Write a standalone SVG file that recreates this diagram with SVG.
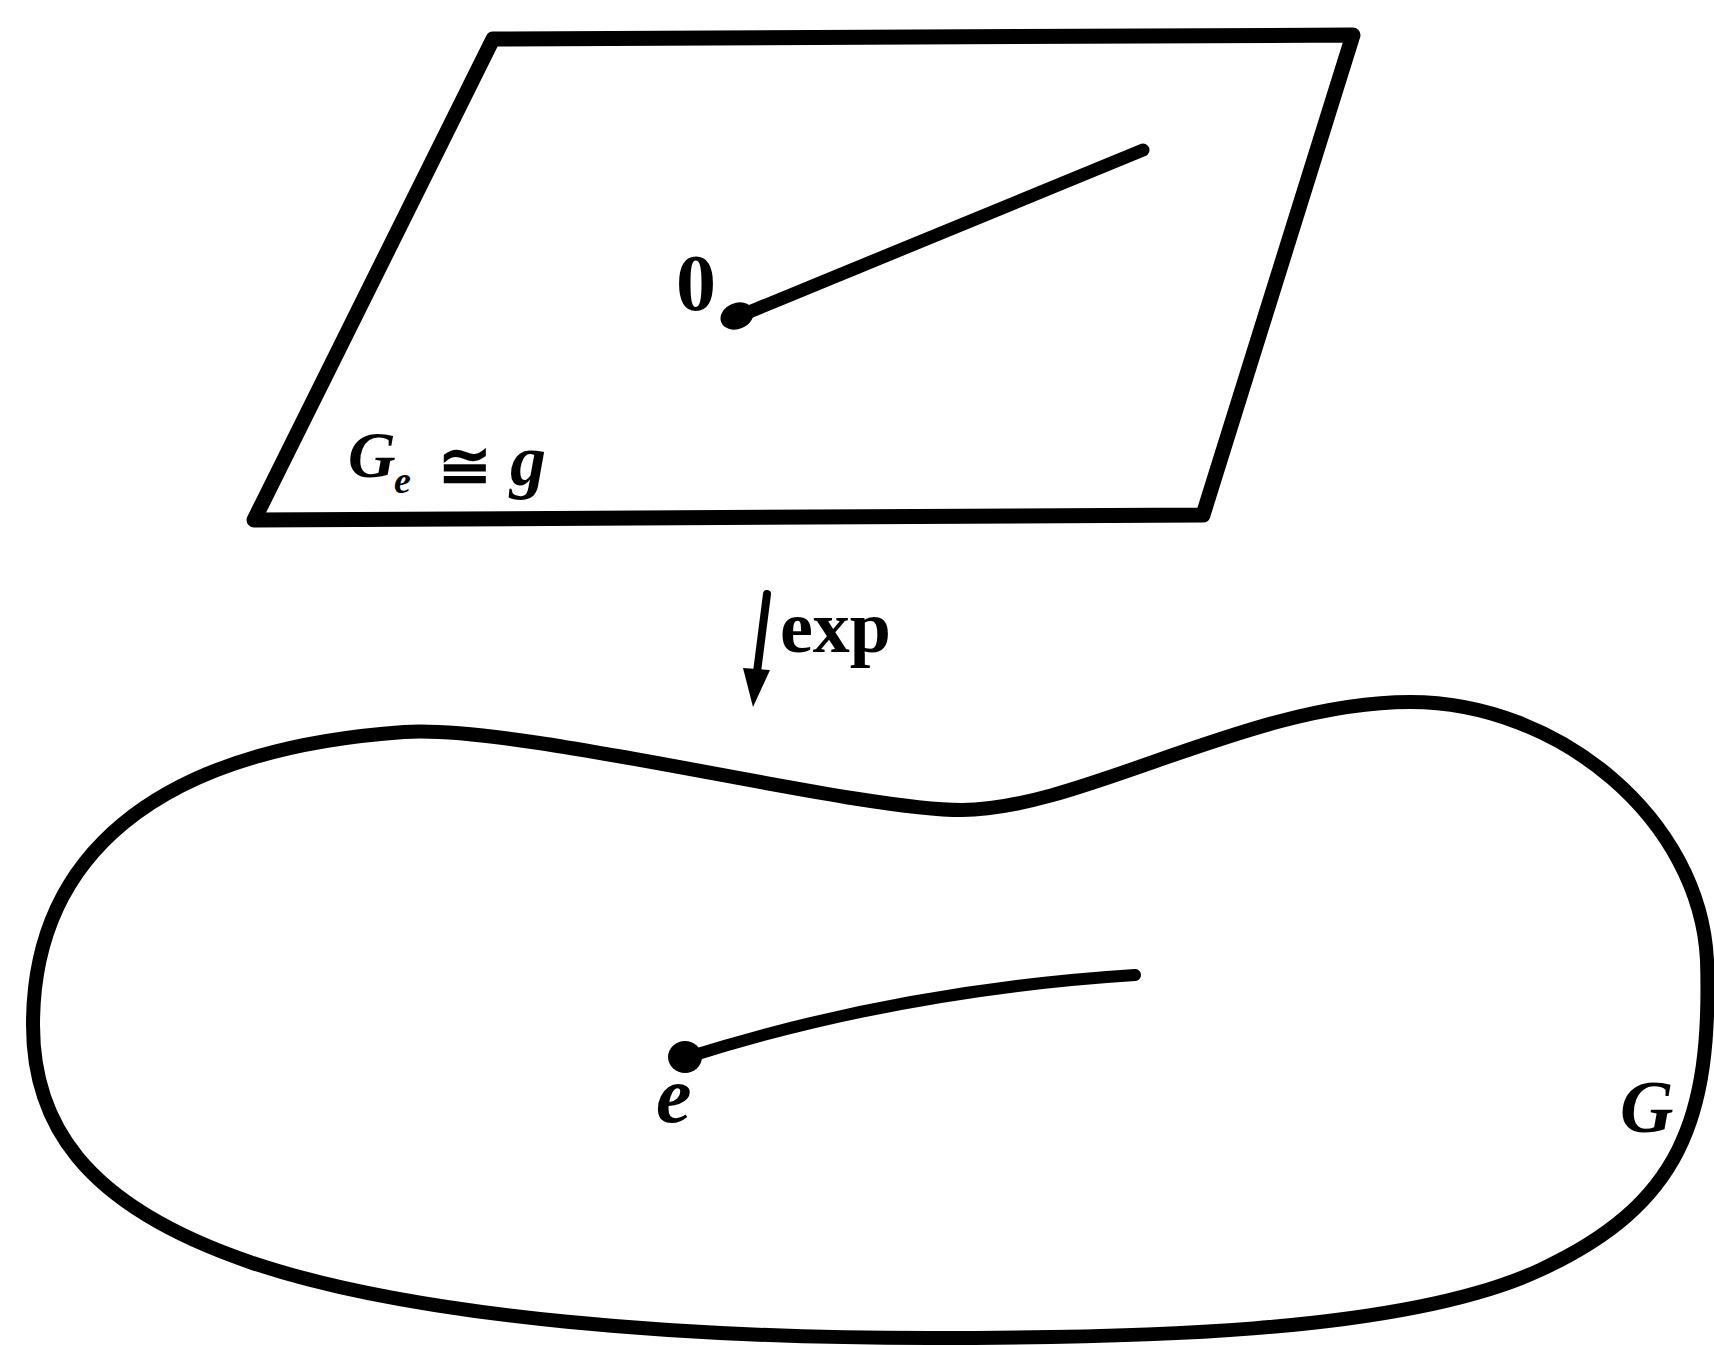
<svg xmlns="http://www.w3.org/2000/svg" width="1714" height="1345" viewBox="0 0 1714 1345">
<style>
.ln{fill:none;stroke:#000;stroke-linecap:round;stroke-linejoin:round}
.t{font-family:"Liberation Serif","Times New Roman",serif;font-weight:bold;fill:#000}
.i{font-style:italic}
</style>
<rect width="1714" height="1345" fill="#fff"/>
<g id="plane">
<polygon class="ln" stroke-width="15" points="493,39 1353,35 1203,515 254,520"/>
<text class="t i" x="348" y="477" font-size="66">G</text>
<text class="t i" x="394" y="493" font-size="38">e</text>
<text class="t" x="438" y="488" font-size="64">≅</text>
<text class="t i" x="510" y="485" font-size="72">g</text>
</g>
<g id="lie-algebra-ray">
<path class="ln" stroke-width="13" d="M737 317 L1143 150"/>
<ellipse cx="737" cy="316" rx="17" ry="13" transform="rotate(-22 737 316)"/>
<text class="t" x="676" y="310" font-size="80">0</text>
</g>
<g id="group-G">
<path class="ln" stroke-width="14" d="M33 1025 C33 860 150 750 404 732 C520 724 850 810 962 810 C1080 810 1250 702 1410 702 C1560 702 1700 820 1707 960 C1712 1120 1680 1205 1540 1270 C1400 1335 1120 1338 929 1338 C700 1338 420 1320 250 1262 C80 1204 33 1120 33 1025 Z"/>
<text class="t i" x="1620" y="1132" font-size="74">G</text>
</g>
<g id="curve">
<path class="ln" stroke-width="12" d="M688 1057 Q900 990 1135 975"/>
<ellipse cx="685" cy="1057" rx="17" ry="16"/>
<text class="t i" x="656" y="1122" font-size="80">e</text>
</g>
<g id="connectors">
<path class="ln" stroke-width="8" d="M767 594 L757 672"/>
<polygon points="743,668 770,670 753,707"/>
<text class="t" x="780" y="652" font-size="74">exp</text>
</g>
</svg>
